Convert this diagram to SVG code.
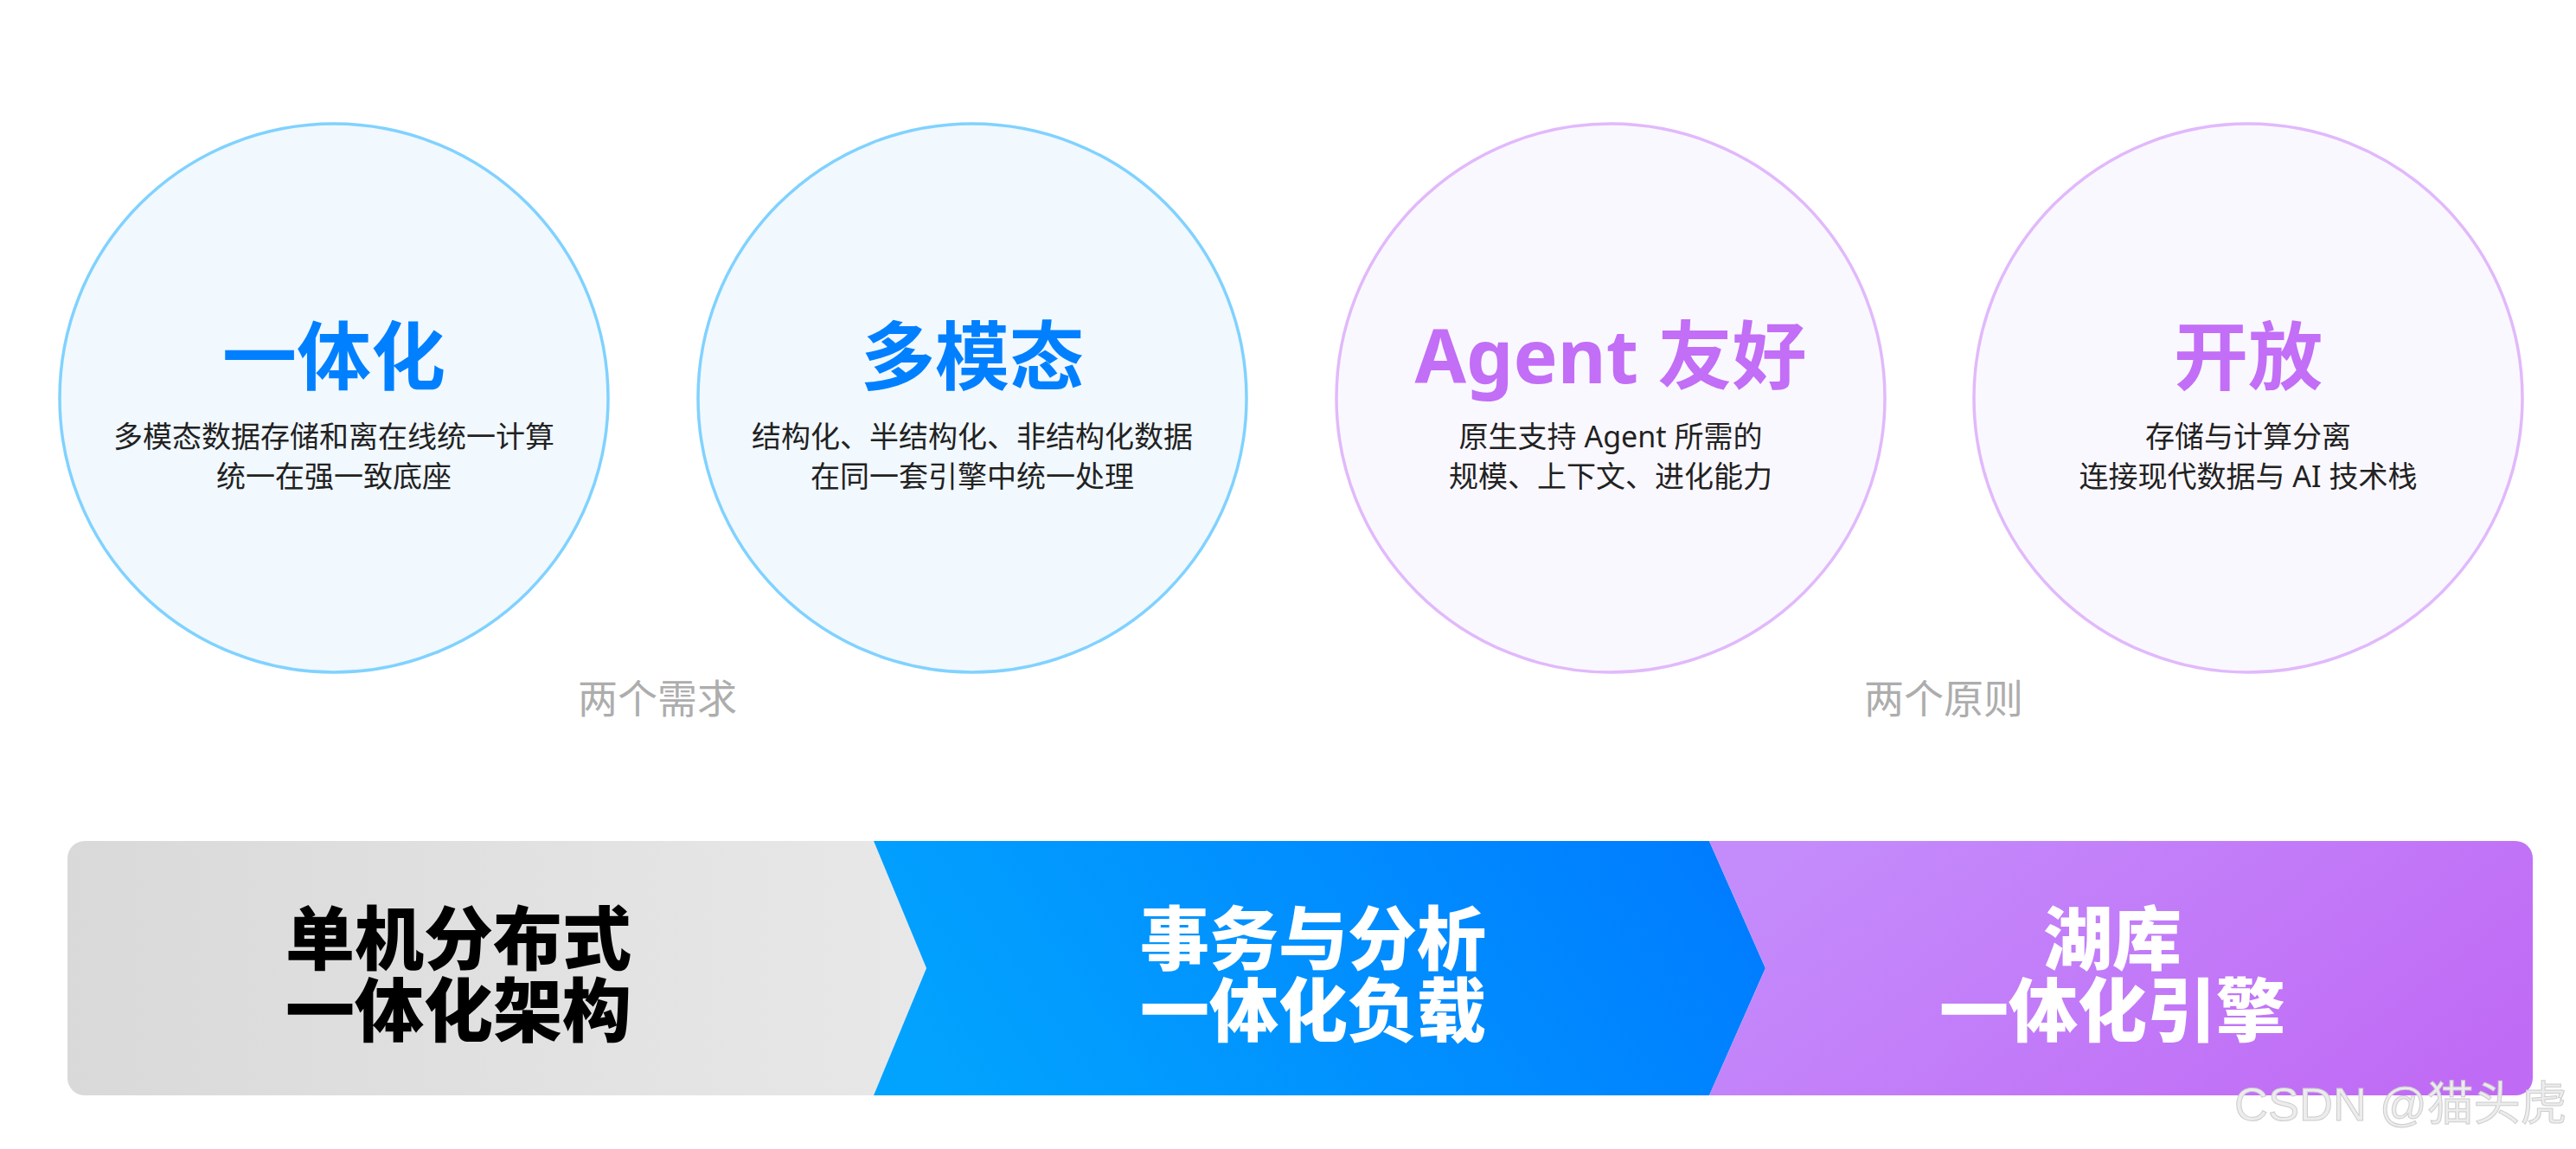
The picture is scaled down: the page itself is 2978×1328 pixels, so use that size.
<svg xmlns="http://www.w3.org/2000/svg" width="2978" height="1328" viewBox="0 0 2978 1328">
<defs>
<linearGradient id="gGray" x1="0" y1="0" x2="1" y2="0">
<stop offset="0" stop-color="#d9d9d9"/>
<stop offset="1" stop-color="#e8e8e8"/>
</linearGradient>
<linearGradient id="gBlue" x1="0" y1="0.6" x2="1" y2="0.4">
<stop offset="0" stop-color="#02a3fe"/>
<stop offset="1" stop-color="#007dff"/>
</linearGradient>
<linearGradient id="gPurple" x1="0" y1="0.3" x2="1" y2="0.7">
<stop offset="0" stop-color="#c48bfb"/>
<stop offset="1" stop-color="#c06bf5"/>
</linearGradient>
<style>
.cb{fill:#f1f8fe;stroke:#80d2ff;stroke-width:3.5}
.cp{fill:#faf8ff;stroke:#e1b9fb;stroke-width:3.5}
.t{font-family:"Noto Sans","Noto Sans CJK SC",sans-serif;text-anchor:middle}
.tb{font-size:86px;font-weight:700;fill:#0080ff}
.tp{font-size:86px;font-weight:700;fill:#c26ef6}
.sub{font-size:34px;fill:#222222}
.lab{font-size:46px;fill:#adadad}
.big{font-size:80px;font-weight:900}
</style>
</defs>
<rect width="2978" height="1328" fill="#ffffff"/>
<g id="node-yitihua">
<circle class="cb" cx="386" cy="460" r="317"/>
<text class="t tb" x="386" y="444">一体化</text>
<text class="t sub" x="386" y="517">多模态数据存储和离在线统一计算</text>
<text class="t sub" x="386" y="563">统一在强一致底座</text>
</g>
<g id="node-duomotai">
<circle class="cb" cx="1124" cy="460" r="317"/>
<text class="t tb" x="1124" y="444">多模态</text>
<text class="t sub" x="1124" y="517">结构化、半结构化、非结构化数据</text>
<text class="t sub" x="1124" y="563">在同一套引擎中统一处理</text>
</g>
<g id="node-agent">
<circle class="cp" cx="1862" cy="460" r="317"/>
<text class="t tp" x="1862" y="443">Agent 友好</text>
<text class="t sub" x="1862" y="517">原生支持 Agent 所需的</text>
<text class="t sub" x="1862" y="563">规模、上下文、进化能力</text>
</g>
<g id="node-kaifang">
<circle class="cp" cx="2599" cy="460" r="317"/>
<text class="t tp" x="2599" y="444">开放</text>
<text class="t sub" x="2599" y="517">存储与计算分离</text>
<text class="t sub" x="2599" y="563">连接现代数据与 AI 技术栈</text>
</g>
<g id="labels">
<text class="t lab" x="760" y="824">两个需求</text>
<text class="t lab" x="2247" y="824">两个原则</text>
</g>
<g id="node-stage1">
<path d="M98,972 L1010,972 L1071,1119 L1010,1266 L98,1266 A20,20 0 0 1 78,1246 L78,992 A20,20 0 0 1 98,972 Z" fill="url(#gGray)"/>
<text class="t big" x="530" y="1114" fill="#000000">单机分布式</text>
<text class="t big" x="530" y="1197" fill="#000000">一体化架构</text>
</g>
<g id="node-stage2">
<path d="M1010,972 L1976,972 L2041,1119 L1976,1266 L1010,1266 L1071,1119 Z" fill="url(#gBlue)"/>
<text class="t big" x="1518" y="1114" fill="#ffffff">事务与分析</text>
<text class="t big" x="1518" y="1197" fill="#ffffff">一体化负载</text>
</g>
<g id="node-stage3">
<path d="M1976,972 L2908,972 A20,20 0 0 1 2928,992 L2928,1246 A20,20 0 0 1 2908,1266 L1976,1266 L2041,1119 Z" fill="url(#gPurple)"/>
<text class="t big" x="2442" y="1114" fill="#ffffff">湖库</text>
<text class="t big" x="2442" y="1197" fill="#ffffff">一体化引擎</text>
</g>
<g id="watermark">
<text x="2583" y="1295" font-family="'Liberation Sans','Noto Sans CJK SC',sans-serif" font-size="54" fill="#ececec" stroke="#cdcdcd" stroke-width="1">CSDN @猫头虎</text>
</g>
</svg>
